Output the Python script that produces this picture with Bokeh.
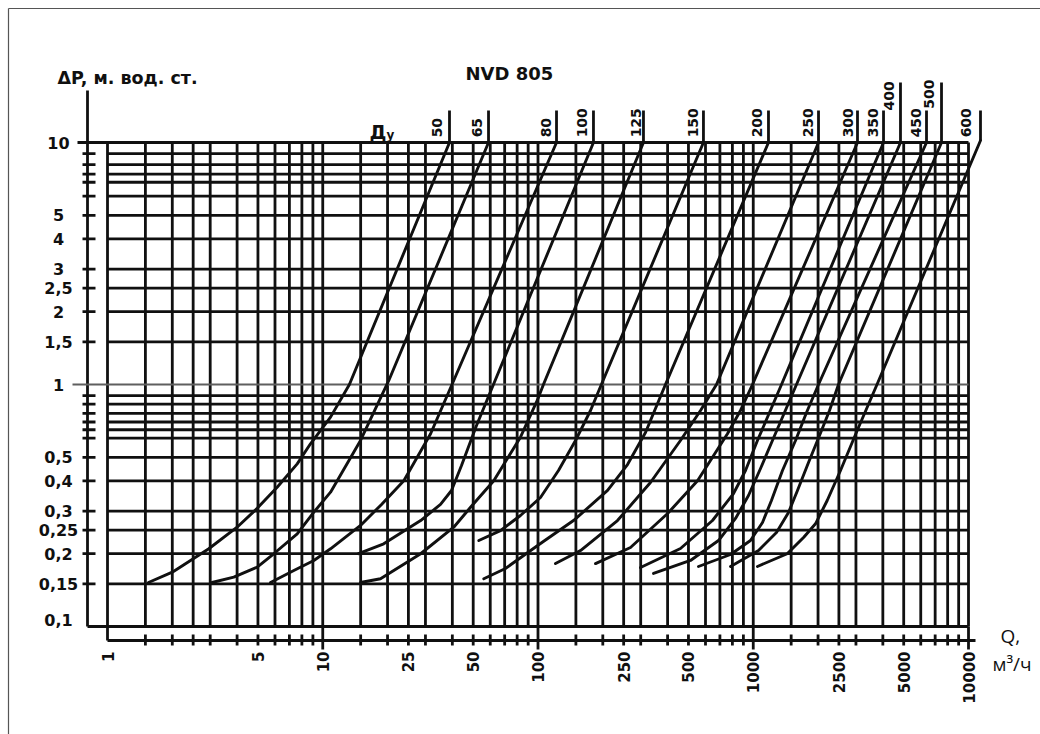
import math
from bokeh.plotting import figure
from bokeh.core.properties import value
from bokeh.embed import file_html
from bokeh.resources import INLINE

# ---------------- data ----------------
dn_names = ["50", "65", "80", "100", "125", "150", "200", "250", "300", "350", "400", "450", "500", "600"]

q_50 = [1.55, 2.0, 2.955, 4.0, 4.96, 6.14, 7.61, 8.77, 10.87, 13.3, 38.8]
p_50 = [0.152, 0.1677, 0.2095, 0.2572, 0.308, 0.376, 0.470, 0.569, 0.733, 1, 10]
q_65 = [3.06, 3.86, 4.96, 5.92, 7.61, 9.09, 10.87, 14.98, 20.27, 58.9]
p_65 = [0.152, 0.160, 0.176, 0.1998, 0.2415, 0.2968, 0.359, 0.587, 1.039, 10]
q_80 = [5.72, 7.34, 9.09, 10.87, 14.98, 18.75, 23.8, 31.7, 40.6, 121.9]
p_80 = [0.152, 0.1704, 0.1874, 0.2095, 0.2616, 0.3195, 0.40, 0.6256, 1.039, 10]
q_100 = [14.66, 19.2, 28.5, 35.24, 39.64, 44.12, 51.8, 62.1, 181]
p_100 = [0.2, 0.2197, 0.274, 0.3195, 0.3648, 0.4627, 0.677, 1, 10]
q_125 = [14.98, 18.55, 28.5, 40.6, 48.6, 62.3, 82.9, 99.2, 106, 309]
p_125 = [0.152, 0.1575, 0.1998, 0.2572, 0.311, 0.40, 0.6057, 0.859, 1, 10]
q_150 = [53.1, 66.9, 82.9, 102.7, 124.5, 149.4, 175.4, 197, 587]
p_150 = [0.2266, 0.249, 0.2875, 0.3412, 0.441, 0.587, 0.781, 1, 10]
q_200 = [56.0, 70.6, 102.7, 146.2, 210.5, 260.5, 315.8, 391, 1177]
p_200 = [0.1575, 0.1737, 0.2203, 0.274, 0.365, 0.467, 0.633, 1, 10]
q_250 = [120.6, 157.6, 234, 333, 459, 569, 675, 2010]
p_250 = [0.182, 0.206, 0.274, 0.3936, 0.587, 0.781, 1, 10]
q_300 = [185, 269, 400, 551, 759, 872.7, 992, 3050]
p_300 = [0.182, 0.212, 0.293, 0.4, 0.6256, 0.781, 1, 10]
q_350 = [299.4, 459.2, 646.6, 809.6, 920.5, 1046, 1190, 1353, 4029]
p_350 = [0.1753, 0.2101, 0.2742, 0.3544, 0.4412, 0.587, 0.766, 1, 10]
q_400 = [344.1, 510.9, 689.6, 827.1, 950.4, 1081, 1228, 1397, 1588, 4831]
p_400 = [0.1656, 0.1874, 0.2266, 0.2795, 0.3478, 0.4497, 0.587, 0.766, 1, 10]
q_450 = [556.7, 784.3, 970.9, 1104, 1215, 1367, 1572, 1768, 2010, 6381]
p_450 = [0.177, 0.1984, 0.2266, 0.2691, 0.3316, 0.4412, 0.587, 0.766, 1, 10]
q_500 = [784.3, 1058, 1282, 1458, 1605, 1806, 2032, 2261, 2489, 7492]
p_500 = [0.177, 0.2061, 0.2446, 0.2959, 0.3648, 0.4762, 0.6157, 0.781, 1, 10]
q_600 = [1046, 1438, 1717, 1946, 2206, 2543, 3040, 3758, 11369]
p_600 = [0.177, 0.1998, 0.2339, 0.2657, 0.3316, 0.4412, 0.6455, 1, 10.19]

curves_q = [q_50, q_65, q_80, q_100, q_125, q_150, q_200, q_250, q_300, q_350, q_400, q_450, q_500, q_600]
curves_p = [p_50, p_65, p_80, p_100, p_125, p_150, p_200, p_250, p_300, p_350, p_400, p_450, p_500, p_600]

# curve labels: centre of the vertical text (Q), start of the text (dP), top of the leader (dP)
label_q = [33.95, 52.1, 109.5, 159.3, 286.8, 525, 1046, 1797, 2755, 3600, 4295, 5673, 6553, 9788]
label_p = [10.5, 10.5, 10.5, 10.5, 10.5, 10.5, 10.5, 10.5, 10.5, 10.5, 13.55, 10.5, 13.8, 10.5]
leader_top = [13.55, 13.55, 13.55, 13.55, 13.55, 13.55, 13.55, 13.55, 13.55, 13.55, 17.7, 13.55, 17.7, 13.55]

x_tick_vals = [1, 5, 10, 25, 50, 100, 250, 500, 1000, 2500, 5000, 10000]
x_tick_text = ["1", "5", "10", "25", "50", "100", "250", "500", "1000", "2500", "5000", "10000"]
x_grid_mult = [1, 1.5, 2, 2.5, 3, 4, 5, 6, 7, 8, 9]
x_decades = [1, 10, 100, 1000]

y_tick_vals = [10, 5, 4, 3, 2.5, 2, 1.5, 1, 0.5, 0.4, 0.3, 0.25, 0.2, 0.15, 0.1]
y_tick_text = ["10", "5", "4", "3", "2,5", "2", "1,5", "1", "0,5", "0,4", "0,3", "0,25", "0,2", "0,15", "0,1"]
y_minor_vals = [9, 8.1, 7.4, 6.85, 6, 0.9, 0.83, 0.76, 0.7, 0.65, 0.6]

# ---------------- layout ----------------
W, H = 1040, 734
X1_PX, XDEC = 107, 215.25   # where Q=1 sits, px per decade
Y10_PX, YDEC = 142, 242.0   # where dP=10 sits, px per decade

x_start = 10 ** ((0 - X1_PX) / XDEC)
x_end = 10 ** ((W - X1_PX) / XDEC)
y_end = 10 ** (1 + Y10_PX / YDEC)
y_start = 10 ** (1 - (H - Y10_PX) / YDEC)

def xq(px):   # horizontal page position -> Q
    return 10 ** ((px - X1_PX) / XDEC)

def yp(px):   # vertical page position -> dP
    return 10 ** (1 - (px - Y10_PX) / YDEC)

p = figure(width=W, height=H, x_axis_type="log", y_axis_type="log",
           x_range=(x_start, x_end), y_range=(y_start, y_end),
           x_axis_location=None, y_axis_location=None,
           output_backend="svg", toolbar_location=None, title=None,
           min_border=0)
p.outline_line_color = None
p.grid.visible = False
p.background_fill_color = "white"
p.border_fill_color = "white"

ink = "#101010"
GW = 2.8    # grid width
CW = 2.9    # curve width

# page frame lines
p.segment(x0=[xq(8), xq(8)], y0=[yp(8), yp(8)], x1=[xq(W), xq(8)], y1=[yp(8), yp(H)],
          line_width=1.2, line_color="#555555")

# axis lines
y_axis_x = xq(87)
x_axis_y = yp(640)
p.segment(x0=[y_axis_x], y0=[yp(90)], x1=[y_axis_x], y1=[0.1], line_width=GW, line_color=ink)
p.segment(x0=[1], y0=[x_axis_y], x1=[xq(975)], y1=[x_axis_y], line_width=GW, line_color=ink)

# vertical grid lines and x ticks
xg = [m * d for d in x_decades for m in x_grid_mult] + [10000]
long_x = x_decades[1:] + [10000]
p.segment(x0=xg, y0=[0.1] * len(xg), x1=xg, y1=[10] * len(xg), line_width=GW, line_color=ink)
p.segment(x0=long_x, y0=[yp(649)] * len(long_x), x1=long_x, y1=[0.1] * len(long_x),
          line_width=GW, line_color=ink)
p.segment(x0=[1], y0=[x_axis_y], x1=[1], y1=[0.1], line_width=GW, line_color=ink)
short_x = [q for q in xg if q not in long_x and q != 1]
p.segment(x0=short_x, y0=[yp(634)] * len(short_x), x1=short_x, y1=[yp(645)] * len(short_x),
          line_width=GW, line_color=ink)

# horizontal grid lines and y ticks
hy = [v for v in y_tick_vals + y_minor_vals if v != 1]
hx0 = [y_axis_x if v == 0.1 else (xq(77) if v == 10 else 1) for v in hy]
p.segment(x0=hx0, y0=hy, x1=[10000] * len(hy), y1=hy, line_width=GW, line_color=ink)
p.segment(x0=[xq(72)], y0=[1], x1=[10000], y1=[1], line_width=2.2, line_color="#5f5f5f")
tick_y = [v for v in hy if v not in (10, 0.1)]
p.segment(x0=[xq(82)] * len(tick_y), y0=tick_y, x1=[xq(95)] * len(tick_y), y1=tick_y,
          line_width=GW, line_color=ink)

# tick labels
y_label_pos = [v if v != 0.1 else 0.106 for v in y_tick_vals]
p.text(x=[xq(58)] * len(y_tick_vals), y=y_label_pos, text=y_tick_text,
       text_font=value("DejaVu Sans"), text_font_style="bold", text_font_size="16px",
       text_align="center", text_baseline="middle", text_color=ink)
p.text(x=x_tick_vals, y=[yp(651)] * len(x_tick_vals), text=x_tick_text, angle=math.pi / 2,
       text_font=value("DejaVu Sans"), text_font_style="bold", text_font_size="15px",
       text_align="right", text_baseline="middle", text_color=ink)

# curves
for qs, ps in zip(curves_q, curves_p):
    p.line(qs, ps, line_width=CW, line_color=ink, line_join="round", line_cap="round")

# leaders and curve labels
top_q = [qs[-1] for qs in curves_q]
top_p = [ps[-1] for ps in curves_p]
p.segment(x0=top_q, y0=top_p, x1=top_q, y1=leader_top, line_width=GW, line_color=ink)
p.text(x=label_q, y=label_p, text=dn_names, angle=math.pi / 2,
       text_font=value("DejaVu Sans"), text_font_style="bold", text_font_size="14px",
       text_align="left", text_baseline="middle", text_color=ink)

# titles and axis names
def txt(px, py, t, size, style="bold", font="DejaVu Sans"):
    p.text(x=[xq(px)], y=[yp(py)], text=[t], text_font=value(font), text_font_size=size,
           text_font_style=style, text_color=ink, text_align="left", text_baseline="alphabetic")

txt(57, 77, "ΔP, м. вод. ст.", "17.5px")
txt(465, 73, "NVD 805", "18px")
txt(369, 131, "Д", "19px")
txt(386, 134, "у", "12px")
txt(1000, 635, "Q,", "19px", style="normal", font="Open Sans")
txt(992, 663, "м³/ч", "19px", style="normal", font="Open Sans")

open("out.html", "w").write(file_html(p, INLINE))
